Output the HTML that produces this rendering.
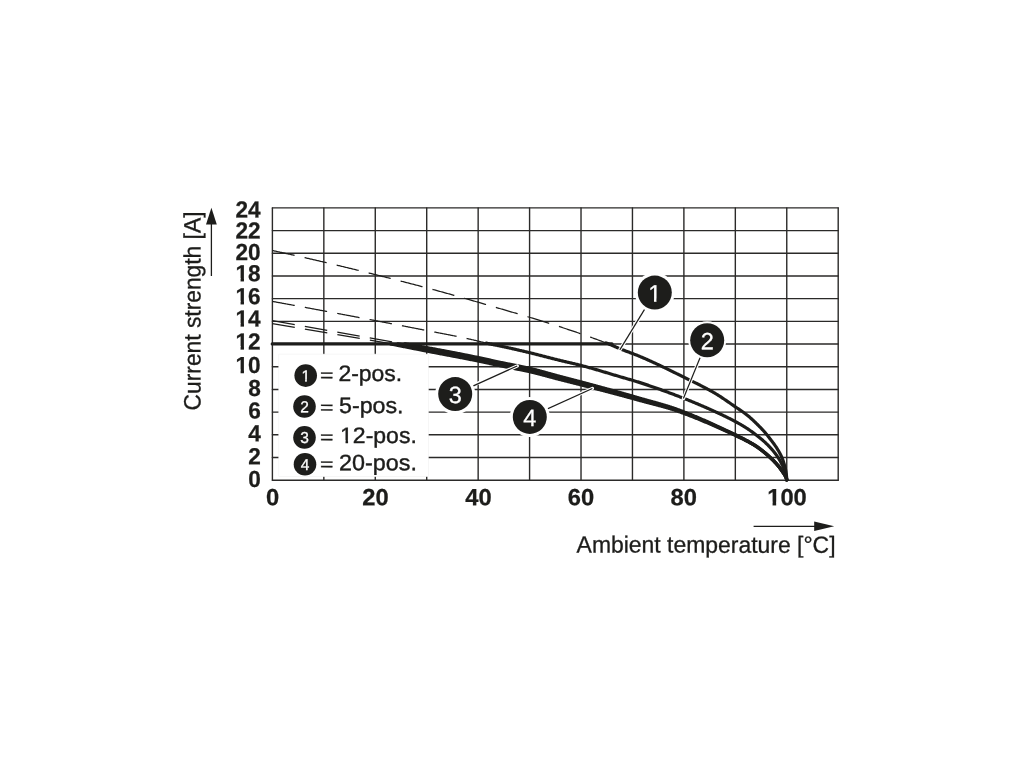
<!DOCTYPE html>
<html lang="en"><head><meta charset="utf-8"><title>Derating diagram</title>
<style>html,body{margin:0;padding:0;background:#fff;}body{width:1020px;height:765px;overflow:hidden;}svg{display:block;}text{font-family:"Liberation Sans",sans-serif;}</style>
</head><body>
<svg width="1020" height="765" viewBox="0 0 1020 765">
<defs><clipPath id="k1"><path clip-rule="evenodd" d="M-400,-60H400V30H-400ZM-24.71,-3.31H-20.01V1.5H-24.71ZM-16.62,-3.31H-12.20V1.5H-16.62Z"/></clipPath><clipPath id="k2"><path clip-rule="evenodd" d="M-400,-60H400V30H-400ZM-24.71,-3.31H-20.01V1.5H-24.71ZM-16.62,-3.31H-12.20V1.5H-16.62Z"/></clipPath><clipPath id="k3"><path clip-rule="evenodd" d="M-400,-60H400V30H-400ZM-24.71,-3.31H-20.01V1.5H-24.71ZM-16.62,-3.31H-12.20V1.5H-16.62Z"/></clipPath><clipPath id="k4"><path clip-rule="evenodd" d="M-400,-60H400V30H-400ZM-24.71,-3.31H-20.01V1.5H-24.71ZM-16.62,-3.31H-12.20V1.5H-16.62Z"/></clipPath><clipPath id="k5"><path clip-rule="evenodd" d="M-400,-60H400V30H-400ZM-24.71,-3.31H-20.01V1.5H-24.71ZM-16.62,-3.31H-12.20V1.5H-16.62Z"/></clipPath><clipPath id="k6"><path clip-rule="evenodd" d="M-400,-60H400V30H-400ZM-18.43,-3.31H-13.72V1.5H-18.43ZM-10.33,-3.31H-5.91V1.5H-10.33Z"/></clipPath><clipPath id="k7"><path clip-rule="evenodd" d="M-400,-60H400V30H-400ZM-4.13,-2.16H-0.58V1.5H-4.13ZM1.13,-2.16H4.55V1.5H1.13Z"/></clipPath><clipPath id="k8"><path clip-rule="evenodd" d="M-400,-60H400V30H-400ZM0.75,-2.71H5.55V1.5H0.75ZM8.02,-2.71H12.64V1.5H8.02Z"/></clipPath><clipPath id="k9"><path clip-rule="evenodd" d="M-400,-60H400V30H-400ZM-5.74,-2.76H-0.80V1.5H-5.74ZM1.62,-2.76H6.39V1.5H1.62Z"/></clipPath></defs>
<rect width="1020" height="765" fill="#ffffff"/>
<g stroke="#2b2a29" stroke-width="1.4" fill="none" stroke-linecap="round">
<line x1="272.40" y1="207.90" x2="272.40" y2="480.20"/>
<line x1="323.84" y1="207.90" x2="323.84" y2="480.20"/>
<line x1="375.27" y1="207.90" x2="375.27" y2="480.20"/>
<line x1="426.71" y1="207.90" x2="426.71" y2="480.20"/>
<line x1="478.15" y1="207.90" x2="478.15" y2="480.20"/>
<line x1="529.58" y1="207.90" x2="529.58" y2="480.20"/>
<line x1="581.02" y1="207.90" x2="581.02" y2="480.20"/>
<line x1="632.45" y1="207.90" x2="632.45" y2="480.20"/>
<line x1="683.89" y1="207.90" x2="683.89" y2="480.20"/>
<line x1="735.33" y1="207.90" x2="735.33" y2="480.20"/>
<line x1="786.76" y1="207.90" x2="786.76" y2="480.20"/>
<line x1="838.20" y1="207.90" x2="838.20" y2="480.20"/>
<line x1="272.40" y1="207.90" x2="838.20" y2="207.90"/>
<line x1="272.40" y1="230.59" x2="838.20" y2="230.59"/>
<line x1="272.40" y1="253.28" x2="838.20" y2="253.28"/>
<line x1="272.40" y1="275.98" x2="838.20" y2="275.98"/>
<line x1="272.40" y1="298.67" x2="838.20" y2="298.67"/>
<line x1="272.40" y1="321.36" x2="838.20" y2="321.36"/>
<line x1="272.40" y1="344.05" x2="838.20" y2="344.05"/>
<line x1="272.40" y1="366.74" x2="838.20" y2="366.74"/>
<line x1="272.40" y1="389.43" x2="838.20" y2="389.43"/>
<line x1="272.40" y1="412.12" x2="838.20" y2="412.12"/>
<line x1="272.40" y1="434.82" x2="838.20" y2="434.82"/>
<line x1="272.40" y1="457.51" x2="838.20" y2="457.51"/>
<line x1="272.40" y1="480.20" x2="838.20" y2="480.20"/>
</g>
<rect x="278.8" y="354.1" width="149.50" height="122.50" fill="#ffffff" stroke="#f1f1f1" stroke-width="0.6"/>
<path d="M272.40,250.50 L273.22,250.68 L274.03,250.85 L274.85,251.03 L275.67,251.20 L276.48,251.38 L277.30,251.56 L278.12,251.74 L278.93,251.91 L279.75,252.09 L280.57,252.27 L281.38,252.45 L282.20,252.63 L283.01,252.80 L283.83,252.98 L284.65,253.16 L285.46,253.34 L286.28,253.52 L287.09,253.70 L287.91,253.88 L288.73,254.06 L289.54,254.24 L290.36,254.43 L291.17,254.61 L291.99,254.79 L292.80,254.97 L293.62,255.15 L294.43,255.34 L295.25,255.52 L296.06,255.70 L296.88,255.88 L297.69,256.07 L298.51,256.25 L299.32,256.43 L300.14,256.62 L300.95,256.80 L301.77,256.99 L302.58,257.17 L303.40,257.36 L304.21,257.54 L305.03,257.73 L305.84,257.91 L306.66,258.10 L307.47,258.29 L308.28,258.47 L309.10,258.66 L309.91,258.85 L310.73,259.03 L311.54,259.22 L312.35,259.41 L313.17,259.60 L313.98,259.78 L314.80,259.97 L315.61,260.16 L316.42,260.35 L317.24,260.54 L318.05,260.73 L318.86,260.92 L319.68,261.11 L320.49,261.30 L321.30,261.49 L322.12,261.68 L322.93,261.87 L323.74,262.06 L324.56,262.25 L325.37,262.44 L326.18,262.63 L326.99,262.82 L327.81,263.02 L328.62,263.21 L329.43,263.40 L330.25,263.59 L331.06,263.79 L331.87,263.98 L332.68,264.17 L333.50,264.37 L334.31,264.56 L335.12,264.75 L335.93,264.95 L336.74,265.14 L337.56,265.34 L338.37,265.53 L339.18,265.72 L339.99,265.92 L340.81,266.11 L341.62,266.31 L342.43,266.51 L343.24,266.70 L344.05,266.90 L344.86,267.09 L345.68,267.29 L346.49,267.49 L347.30,267.68 L348.11,267.88 L348.92,268.08 L349.73,268.27 L350.54,268.47 L351.36,268.67 L352.17,268.87 L352.98,269.07 L353.79,269.26 L354.60,269.46 L355.41,269.66 L356.22,269.86 L357.03,270.06 L357.84,270.26 L358.65,270.46 L359.46,270.66 L360.28,270.86 L361.09,271.06 L361.90,271.26 L362.71,271.46 L363.52,271.66 L364.33,271.86 L365.14,272.06 L365.95,272.26 L366.76,272.46 L367.57,272.66 L368.38,272.87 L369.19,273.07 L370.00,273.27 L370.81,273.47 L371.62,273.67 L372.43,273.88 L373.24,274.08 L374.05,274.28 L374.86,274.49 L375.67,274.69 L376.48,274.89 L377.29,275.10 L378.10,275.30 L378.91,275.50 L379.72,275.71 L380.53,275.91 L381.34,276.12 L382.14,276.32 L382.95,276.53 L383.76,276.73 L384.57,276.94 L385.38,277.14 L386.19,277.35 L387.00,277.55 L387.81,277.76 L388.62,277.96 L389.43,278.17 L390.24,278.38 L391.04,278.58 L391.85,278.79 L392.66,278.99 L393.47,279.20 L394.28,279.41 L395.09,279.62 L395.90,279.82 L396.70,280.03 L397.51,280.24 L398.32,280.45 L399.13,280.65 L399.94,280.86 L400.75,281.07 L401.56,281.28 L402.36,281.49 L403.17,281.69 L403.98,281.90 L404.79,282.11 L405.60,282.32 L406.40,282.53 L407.21,282.74 L408.02,282.95 L408.83,283.16 L409.64,283.37 L410.44,283.58 L411.25,283.79 L412.06,284.00 L412.87,284.21 L413.67,284.42 L414.48,284.63 L415.29,284.84 L416.10,285.05 L416.90,285.26 L417.71,285.47 L418.52,285.68 L419.33,285.89 L420.13,286.11 L420.94,286.32 L421.75,286.53 L422.56,286.74 L423.36,286.95 L424.17,287.17 L424.98,287.38 L425.78,287.59 L426.59,287.81 L427.40,288.02 L428.20,288.23 L429.01,288.45 L429.82,288.67 L430.62,288.88 L431.43,289.10 L432.23,289.32 L433.04,289.53 L433.85,289.75 L434.65,289.97 L435.46,290.19 L436.26,290.41 L437.07,290.62 L437.87,290.84 L438.68,291.06 L439.48,291.28 L440.29,291.50 L441.09,291.73 L441.90,291.95 L442.70,292.17 L443.51,292.39 L444.31,292.61 L445.12,292.84 L445.92,293.06 L446.73,293.28 L447.53,293.51 L448.34,293.73 L449.14,293.95 L449.95,294.18 L450.75,294.40 L451.55,294.63 L452.36,294.85 L453.16,295.08 L453.97,295.31 L454.77,295.53 L455.57,295.76 L456.38,295.99 L457.18,296.21 L457.98,296.44 L458.79,296.67 L459.59,296.90 L460.39,297.12 L461.20,297.35 L462.00,297.58 L462.80,297.81 L463.61,298.04 L464.41,298.27 L465.21,298.50 L466.02,298.73 L466.82,298.96 L467.62,299.19 L468.42,299.42 L469.23,299.65 L470.03,299.88 L470.83,300.11 L471.64,300.34 L472.44,300.57 L473.24,300.81 L474.04,301.04 L474.85,301.27 L475.65,301.50 L476.45,301.73 L477.25,301.97 L478.05,302.20 L478.86,302.43 L479.66,302.66 L480.46,302.90 L481.26,303.13 L482.06,303.36 L482.87,303.60 L483.67,303.83 L484.47,304.06 L485.27,304.30 L486.07,304.53 L486.87,304.76 L487.68,305.00 L488.48,305.23 L489.28,305.46 L490.08,305.70 L490.88,305.93 L491.68,306.17 L492.49,306.40 L493.29,306.64 L494.09,306.87 L494.89,307.10 L495.69,307.34 L496.49,307.57 L497.29,307.81 L498.10,308.04 L498.90,308.28 L499.70,308.51 L500.50,308.75 L501.30,308.98 L502.10,309.22 L502.90,309.45 L503.70,309.68 L504.51,309.92 L505.31,310.15 L506.11,310.39 L506.91,310.62 L507.71,310.86 L508.51,311.09 L509.31,311.33 L510.12,311.56 L510.92,311.80 L511.72,312.03 L512.52,312.27 L513.32,312.50 L514.12,312.74 L514.92,312.97 L515.72,313.21 L516.53,313.44 L517.33,313.68 L518.13,313.92 L518.93,314.15 L519.73,314.39 L520.53,314.63 L521.33,314.86 L522.13,315.10 L522.93,315.34 L523.73,315.58 L524.54,315.81 L525.34,316.05 L526.14,316.29 L526.94,316.53 L527.74,316.77 L528.54,317.01 L529.34,317.25 L530.14,317.49 L530.94,317.73 L531.74,317.97 L532.54,318.21 L533.34,318.45 L534.14,318.69 L534.94,318.93 L535.73,319.18 L536.53,319.42 L537.33,319.66 L538.13,319.90 L538.93,320.15 L539.73,320.39 L540.53,320.64 L541.32,320.88 L542.12,321.13 L542.92,321.38 L543.72,321.62 L544.52,321.87 L545.31,322.12 L546.11,322.37 L546.91,322.62 L547.70,322.86 L548.50,323.11 L549.30,323.37 L550.09,323.62 L550.89,323.87 L551.68,324.12 L552.48,324.37 L553.27,324.63 L554.07,324.88 L554.86,325.14 L555.66,325.39 L556.45,325.65 L557.25,325.90 L558.04,326.16 L558.83,326.42 L559.63,326.68 L560.42,326.94 L561.21,327.20 L562.01,327.46 L562.80,327.72 L563.59,327.98 L564.38,328.24 L565.18,328.50 L565.97,328.76 L566.76,329.02 L567.56,329.29 L568.35,329.55 L569.14,329.81 L569.93,330.08 L570.73,330.34 L571.52,330.61 L572.31,330.87 L573.10,331.14 L573.89,331.41 L574.69,331.67 L575.48,331.94 L576.27,332.21 L577.06,332.48 L577.85,332.75 L578.64,333.02 L579.43,333.29 L580.22,333.56 L581.01,333.83 L581.80,334.11 L582.59,334.38 L583.38,334.65 L584.17,334.93 L584.96,335.20 L585.75,335.48 L586.54,335.76 L587.32,336.03 L588.11,336.31 L588.90,336.59 L589.69,336.87 L590.47,337.15 L591.26,337.44 L592.04,337.72 L592.83,338.00 L593.61,338.29 L594.40,338.57 L595.18,338.86 L595.97,339.15 L596.75,339.43 L597.54,339.72 L598.32,340.01 L599.10,340.31 L599.88,340.60 L600.66,340.89 L601.44,341.18 L602.23,341.48 L603.01,341.78 L603.78,342.07 L604.56,342.37 L605.34,342.67 L606.12,342.97 L606.90,343.27 L607.68,343.58 L608.45,343.88 L609.23,344.19" fill="none" stroke="#1d1d1b" stroke-width="1.25" stroke-dasharray="22.7 10.25"/>
<path d="M606.12,342.97 L606.90,343.27 L607.68,343.58 L608.45,343.88 L609.23,344.19 L610.00,344.50 L610.77,344.82 L611.54,345.15 L612.31,345.48 L613.07,345.81 L613.84,346.14 L614.61,346.47 L615.37,346.81 L616.14,347.14 L616.91,347.47 L617.67,347.80 L618.44,348.12 L619.21,348.44 L619.99,348.76 L620.76,349.07 L621.54,349.38 L622.32,349.68 L623.09,349.98 L623.87,350.28 L624.65,350.58 L625.44,350.88 L626.22,351.17 L627.00,351.47 L627.78,351.76 L628.56,352.05 L629.35,352.35 L630.13,352.64 L630.91,352.93 L631.69,353.23 L632.48,353.52 L633.26,353.82 L634.04,354.12 L634.82,354.42 L635.59,354.72 L636.37,355.02 L637.15,355.33 L637.92,355.64 L638.69,355.96 L639.46,356.27 L640.23,356.60 L641.00,356.92 L641.77,357.25 L642.53,357.58 L643.30,357.91 L644.06,358.24 L644.83,358.57 L645.59,358.90 L646.36,359.24 L647.12,359.58 L647.88,359.92 L648.64,360.26 L649.40,360.60 L650.16,360.94 L650.92,361.29 L651.68,361.63 L652.44,361.98 L653.20,362.33 L653.96,362.68 L654.72,363.03 L655.48,363.38 L656.23,363.73 L656.99,364.09 L657.75,364.44 L658.50,364.80 L659.26,365.16 L660.01,365.51 L660.77,365.87 L661.52,366.23 L662.28,366.59 L663.03,366.95 L663.78,367.32 L664.53,367.68 L665.29,368.04 L666.04,368.41 L666.79,368.77 L667.54,369.14 L668.29,369.50 L669.05,369.87 L669.80,370.24 L670.55,370.61 L671.30,370.97 L672.05,371.34 L672.80,371.71 L673.55,372.08 L674.30,372.45 L675.05,372.82 L675.80,373.19 L676.54,373.56 L677.29,373.93 L678.04,374.30 L678.79,374.67 L679.54,375.04 L680.29,375.41 L681.04,375.78 L681.78,376.15 L682.53,376.52 L683.28,376.89 L684.03,377.26 L684.78,377.63 L685.52,378.00 L686.27,378.37 L687.02,378.74 L687.77,379.11 L688.52,379.48 L689.27,379.85 L690.03,380.22 L690.78,380.58 L691.53,380.95 L692.28,381.32 L693.03,381.69 L693.78,382.06 L694.53,382.43 L695.28,382.81 L696.03,383.18 L696.78,383.55 L697.52,383.92 L698.27,384.30 L699.02,384.68 L699.77,385.05 L700.51,385.43 L701.26,385.81 L702.00,386.19 L702.74,386.58 L703.49,386.96 L704.23,387.35 L704.97,387.73 L705.70,388.12 L706.44,388.52 L707.18,388.91 L707.91,389.31 L708.65,389.70 L709.38,390.10 L710.11,390.51 L710.83,390.91 L711.56,391.32 L712.28,391.73 L713.01,392.14 L713.73,392.56 L714.45,392.98 L715.16,393.40 L715.88,393.82 L716.59,394.25 L717.30,394.69 L718.01,395.13 L718.71,395.57 L719.41,396.02 L720.11,396.47 L720.81,396.93 L721.51,397.38 L722.21,397.84 L722.90,398.31 L723.60,398.77 L724.29,399.24 L724.98,399.71 L725.67,400.18 L726.36,400.66 L727.05,401.13 L727.74,401.61 L728.43,402.08 L729.11,402.56 L729.80,403.04 L730.49,403.52 L731.18,403.99 L731.86,404.47 L732.55,404.94 L733.24,405.42 L733.93,405.89 L734.62,406.37 L735.31,406.84 L736.00,407.30 L736.69,407.77 L737.39,408.23 L738.09,408.70 L738.78,409.16 L739.48,409.62 L740.18,410.08 L740.88,410.55 L741.57,411.01 L742.26,411.49 L742.95,411.96 L743.63,412.44 L744.31,412.93 L744.98,413.42 L745.64,413.92 L746.30,414.42 L746.95,414.94 L747.60,415.46 L748.24,415.99 L748.88,416.53 L749.51,417.08 L750.14,417.63 L750.77,418.19 L751.39,418.75 L752.01,419.31 L752.62,419.88 L753.23,420.45 L753.84,421.03 L754.45,421.60 L755.05,422.18 L755.65,422.76 L756.25,423.34 L756.85,423.92 L757.45,424.50 L758.04,425.09 L758.63,425.68 L759.22,426.27 L759.81,426.87 L760.39,427.47 L760.97,428.07 L761.55,428.68 L762.12,429.29 L762.69,429.90 L763.26,430.51 L763.82,431.13 L764.37,431.75 L764.92,432.38 L765.47,433.01 L766.00,433.65 L766.53,434.29 L767.06,434.94 L767.58,435.59 L768.10,436.25 L768.61,436.91 L769.12,437.57 L769.62,438.24 L770.13,438.90 L770.64,439.57 L771.15,440.23 L771.65,440.89 L772.16,441.56 L772.67,442.23 L773.17,442.90 L773.67,443.57 L774.16,444.24 L774.65,444.92 L775.13,445.60 L775.61,446.29 L776.07,446.98 L776.53,447.67 L776.98,448.37 L777.43,449.08 L777.87,449.79 L778.30,450.50 L778.74,451.22 L779.16,451.95 L779.57,452.68 L779.97,453.41 L780.35,454.15 L780.72,454.90 L781.07,455.65 L781.41,456.41 L781.73,457.18 L782.06,457.95 L782.37,458.73 L782.67,459.51 L782.96,460.30 L783.23,461.09 L783.50,461.88 L783.75,462.68 L783.99,463.47 L784.22,464.27 L784.45,465.08 L784.67,465.88 L784.89,466.69 L785.10,467.51 L785.30,468.32 L785.48,469.14 L785.65,469.96 L785.80,470.78 L785.94,471.60 L786.06,472.42 L786.17,473.24 L786.28,474.07 L786.38,474.90 L786.48,475.73 L786.56,476.56 L786.64,477.39 L786.71,478.22 L786.76,479.06 L786.80,479.90" fill="none" stroke="#1d1d1b" stroke-width="3.2" stroke-linecap="round" stroke-linejoin="round"/>
<path d="M272.40,301.40 L273.19,301.54 L273.98,301.69 L274.77,301.83 L275.55,301.98 L276.34,302.12 L277.13,302.26 L277.92,302.41 L278.71,302.55 L279.50,302.70 L280.29,302.84 L281.07,302.98 L281.86,303.13 L282.65,303.27 L283.44,303.42 L284.23,303.56 L285.02,303.71 L285.81,303.85 L286.59,304.00 L287.38,304.14 L288.17,304.29 L288.96,304.43 L289.75,304.58 L290.54,304.72 L291.33,304.86 L292.11,305.01 L292.90,305.16 L293.69,305.30 L294.48,305.45 L295.27,305.59 L296.06,305.74 L296.84,305.88 L297.63,306.03 L298.42,306.17 L299.21,306.32 L300.00,306.46 L300.79,306.61 L301.57,306.75 L302.36,306.90 L303.15,307.05 L303.94,307.19 L304.73,307.34 L305.52,307.48 L306.30,307.63 L307.09,307.78 L307.88,307.92 L308.67,308.07 L309.46,308.21 L310.25,308.36 L311.03,308.51 L311.82,308.65 L312.61,308.80 L313.40,308.95 L314.19,309.09 L314.97,309.24 L315.76,309.38 L316.55,309.53 L317.34,309.68 L318.13,309.82 L318.92,309.97 L319.70,310.12 L320.49,310.26 L321.28,310.41 L322.07,310.56 L322.86,310.71 L323.64,310.85 L324.43,311.00 L325.22,311.15 L326.01,311.29 L326.80,311.44 L327.58,311.59 L328.37,311.74 L329.16,311.88 L329.95,312.03 L330.74,312.18 L331.52,312.33 L332.31,312.47 L333.10,312.62 L333.89,312.77 L334.68,312.92 L335.46,313.06 L336.25,313.21 L337.04,313.36 L337.83,313.51 L338.62,313.66 L339.40,313.80 L340.19,313.95 L340.98,314.10 L341.77,314.25 L342.55,314.40 L343.34,314.55 L344.13,314.69 L344.92,314.84 L345.71,314.99 L346.49,315.14 L347.28,315.29 L348.07,315.44 L348.86,315.58 L349.64,315.73 L350.43,315.88 L351.22,316.03 L352.01,316.18 L352.80,316.33 L353.58,316.48 L354.37,316.63 L355.16,316.77 L355.95,316.92 L356.73,317.07 L357.52,317.22 L358.31,317.37 L359.10,317.52 L359.88,317.67 L360.67,317.82 L361.46,317.97 L362.25,318.12 L363.04,318.27 L363.82,318.42 L364.61,318.57 L365.40,318.72 L366.19,318.86 L366.97,319.01 L367.76,319.16 L368.55,319.31 L369.34,319.46 L370.12,319.61 L370.91,319.76 L371.70,319.91 L372.49,320.06 L373.27,320.21 L374.06,320.36 L374.85,320.51 L375.64,320.66 L376.42,320.81 L377.21,320.96 L378.00,321.11 L378.79,321.27 L379.57,321.42 L380.36,321.57 L381.15,321.72 L381.94,321.87 L382.72,322.02 L383.51,322.17 L384.30,322.32 L385.08,322.47 L385.87,322.62 L386.66,322.77 L387.45,322.92 L388.23,323.08 L389.02,323.23 L389.81,323.38 L390.60,323.53 L391.38,323.68 L392.17,323.83 L392.96,323.98 L393.74,324.13 L394.53,324.29 L395.32,324.44 L396.11,324.59 L396.89,324.74 L397.68,324.89 L398.47,325.05 L399.26,325.20 L400.04,325.35 L400.83,325.50 L401.62,325.65 L402.40,325.81 L403.19,325.96 L403.98,326.11 L404.76,326.26 L405.55,326.42 L406.34,326.57 L407.13,326.72 L407.91,326.87 L408.70,327.03 L409.49,327.18 L410.27,327.33 L411.06,327.49 L411.85,327.64 L412.63,327.79 L413.42,327.95 L414.21,328.10 L414.99,328.25 L415.78,328.41 L416.57,328.56 L417.36,328.71 L418.14,328.87 L418.93,329.02 L419.72,329.17 L420.50,329.33 L421.29,329.48 L422.08,329.64 L422.86,329.79 L423.65,329.94 L424.44,330.10 L425.22,330.25 L426.01,330.40 L426.80,330.56 L427.58,330.71 L428.37,330.86 L429.16,331.01 L429.95,331.17 L430.73,331.32 L431.52,331.47 L432.31,331.62 L433.09,331.77 L433.88,331.92 L434.67,332.08 L435.46,332.23 L436.24,332.38 L437.03,332.53 L437.82,332.68 L438.61,332.83 L439.39,332.99 L440.18,333.14 L440.97,333.29 L441.76,333.44 L442.54,333.59 L443.33,333.75 L444.12,333.90 L444.90,334.05 L445.69,334.21 L446.48,334.36 L447.27,334.51 L448.05,334.67 L448.84,334.82 L449.63,334.98 L450.41,335.13 L451.20,335.29 L451.99,335.44 L452.77,335.60 L453.56,335.76 L454.34,335.92 L455.13,336.07 L455.92,336.23 L456.70,336.39 L457.49,336.55 L458.27,336.71 L459.06,336.87 L459.84,337.04 L460.63,337.20 L461.41,337.36 L462.20,337.53 L462.98,337.69 L463.76,337.86 L464.55,338.02 L465.33,338.19 L466.12,338.36 L466.90,338.52 L467.68,338.69 L468.47,338.86 L469.25,339.03 L470.03,339.21 L470.81,339.38 L471.59,339.56 L472.38,339.74 L473.16,339.92 L473.94,340.11 L474.72,340.29 L475.50,340.48 L476.27,340.67 L477.05,340.86 L477.83,341.05 L478.61,341.25 L479.39,341.44 L480.17,341.63 L480.95,341.82 L481.72,342.01 L482.50,342.20 L483.28,342.39 L484.06,342.58 L484.84,342.76 L485.62,342.95 L486.40,343.13 L487.19,343.31 L487.97,343.48 L488.75,343.65" fill="none" stroke="#1d1d1b" stroke-width="1.25" stroke-dasharray="22.7 10.25"/>
<path d="M486.40,343.13 L487.19,343.31 L487.97,343.48 L488.75,343.65 L489.53,343.83 L490.32,343.99 L491.10,344.16 L491.88,344.33 L492.67,344.49 L493.45,344.66 L494.24,344.82 L495.02,344.98 L495.81,345.14 L496.59,345.30 L497.38,345.46 L498.17,345.62 L498.95,345.78 L499.74,345.94 L500.52,346.11 L501.31,346.27 L502.09,346.43 L502.88,346.59 L503.66,346.76 L504.45,346.92 L505.23,347.09 L506.02,347.26 L506.80,347.42 L507.58,347.60 L508.36,347.77 L509.15,347.94 L509.93,348.12 L510.71,348.29 L511.49,348.47 L512.28,348.64 L513.06,348.82 L513.84,349.00 L514.62,349.18 L515.40,349.35 L516.18,349.53 L516.97,349.71 L517.75,349.89 L518.53,350.07 L519.31,350.26 L520.09,350.44 L520.87,350.62 L521.65,350.80 L522.43,350.99 L523.21,351.17 L523.99,351.36 L524.77,351.54 L525.55,351.73 L526.33,351.91 L527.11,352.10 L527.89,352.29 L528.67,352.48 L529.45,352.66 L530.23,352.85 L531.01,353.04 L531.79,353.23 L532.56,353.42 L533.34,353.62 L534.12,353.81 L534.90,354.01 L535.67,354.20 L536.45,354.40 L537.23,354.59 L538.01,354.79 L538.78,354.99 L539.56,355.19 L540.34,355.39 L541.11,355.59 L541.89,355.79 L542.67,355.99 L543.44,356.19 L544.22,356.39 L544.99,356.59 L545.77,356.79 L546.55,356.99 L547.32,357.19 L548.10,357.39 L548.88,357.59 L549.65,357.79 L550.43,357.99 L551.21,358.19 L551.98,358.39 L552.76,358.59 L553.54,358.78 L554.31,358.98 L555.09,359.18 L555.87,359.37 L556.64,359.57 L557.42,359.76 L558.20,359.96 L558.98,360.15 L559.76,360.34 L560.54,360.53 L561.31,360.72 L562.09,360.91 L562.87,361.09 L563.65,361.28 L564.44,361.46 L565.22,361.64 L566.00,361.82 L566.78,362.00 L567.56,362.19 L568.34,362.37 L569.12,362.55 L569.90,362.73 L570.69,362.91 L571.47,363.09 L572.25,363.27 L573.03,363.45 L573.81,363.63 L574.59,363.82 L575.37,364.00 L576.15,364.19 L576.93,364.38 L577.71,364.57 L578.48,364.76 L579.26,364.96 L580.04,365.15 L580.81,365.35 L581.59,365.55 L582.36,365.76 L583.14,365.96 L583.91,366.17 L584.69,366.37 L585.46,366.58 L586.23,366.79 L587.01,367.01 L587.78,367.22 L588.55,367.43 L589.32,367.65 L590.09,367.86 L590.87,368.08 L591.64,368.30 L592.41,368.52 L593.18,368.74 L593.95,368.96 L594.72,369.19 L595.49,369.41 L596.26,369.64 L597.03,369.86 L597.80,370.09 L598.57,370.31 L599.33,370.54 L600.10,370.77 L600.87,371.00 L601.64,371.22 L602.41,371.45 L603.18,371.68 L603.95,371.91 L604.72,372.14 L605.48,372.37 L606.25,372.60 L607.02,372.83 L607.79,373.06 L608.56,373.29 L609.32,373.52 L610.09,373.76 L610.86,373.99 L611.63,374.22 L612.40,374.45 L613.17,374.68 L613.93,374.91 L614.70,375.13 L615.47,375.36 L616.24,375.59 L617.01,375.82 L617.78,376.05 L618.55,376.27 L619.32,376.50 L620.08,376.72 L620.85,376.95 L621.62,377.17 L622.39,377.40 L623.17,377.62 L623.94,377.84 L624.71,378.06 L625.48,378.28 L626.25,378.50 L627.02,378.72 L627.79,378.94 L628.56,379.17 L629.33,379.39 L630.10,379.61 L630.87,379.83 L631.64,380.06 L632.41,380.28 L633.18,380.51 L633.95,380.74 L634.72,380.97 L635.49,381.20 L636.25,381.43 L637.02,381.66 L637.78,381.90 L638.55,382.14 L639.31,382.38 L640.08,382.62 L640.84,382.87 L641.60,383.12 L642.36,383.36 L643.12,383.61 L643.88,383.86 L644.65,384.11 L645.41,384.36 L646.17,384.62 L646.93,384.87 L647.69,385.13 L648.45,385.38 L649.21,385.64 L649.96,385.90 L650.72,386.16 L651.48,386.42 L652.24,386.68 L653.00,386.94 L653.76,387.20 L654.51,387.47 L655.27,387.73 L656.03,388.00 L656.78,388.26 L657.54,388.53 L658.30,388.80 L659.05,389.07 L659.81,389.34 L660.56,389.61 L661.32,389.88 L662.07,390.15 L662.83,390.43 L663.58,390.70 L664.33,390.98 L665.09,391.25 L665.84,391.53 L666.59,391.81 L667.35,392.08 L668.10,392.36 L668.85,392.64 L669.60,392.92 L670.35,393.20 L671.10,393.49 L671.86,393.77 L672.61,394.05 L673.36,394.34 L674.11,394.62 L674.86,394.91 L675.60,395.19 L676.35,395.48 L677.10,395.76 L677.85,396.05 L678.60,396.34 L679.35,396.63 L680.09,396.92 L680.84,397.21 L681.59,397.50 L682.33,397.79 L683.08,398.08 L683.83,398.37 L684.57,398.66 L685.32,398.96 L686.06,399.25 L686.81,399.55 L687.55,399.84 L688.29,400.14 L689.04,400.44 L689.78,400.74 L690.52,401.04 L691.27,401.34 L692.01,401.64 L692.75,401.95 L693.49,402.25 L694.23,402.56 L694.98,402.87 L695.72,403.17 L696.46,403.48 L697.20,403.79 L697.94,404.10 L698.68,404.42 L699.41,404.73 L700.15,405.04 L700.89,405.36 L701.63,405.67 L702.37,405.99 L703.10,406.31 L703.84,406.63 L704.57,406.95 L705.31,407.27 L706.04,407.59 L706.78,407.91 L707.51,408.23 L708.25,408.56 L708.98,408.88 L709.71,409.21 L710.44,409.54 L711.17,409.87 L711.90,410.19 L712.63,410.52 L713.36,410.85 L714.09,411.19 L714.82,411.52 L715.55,411.85 L716.28,412.19 L717.01,412.52 L717.73,412.86 L718.46,413.20 L719.19,413.53 L719.91,413.87 L720.64,414.22 L721.37,414.56 L722.09,414.90 L722.81,415.25 L723.54,415.60 L724.26,415.94 L724.98,416.29 L725.71,416.64 L726.43,417.00 L727.15,417.35 L727.86,417.71 L728.58,418.07 L729.30,418.43 L730.01,418.79 L730.73,419.15 L731.44,419.52 L732.15,419.89 L732.86,420.26 L733.57,420.63 L734.28,421.00 L734.99,421.38 L735.69,421.76 L736.40,422.14 L737.10,422.52 L737.80,422.91 L738.51,423.30 L739.21,423.69 L739.91,424.09 L740.60,424.48 L741.30,424.89 L741.99,425.29 L742.68,425.70 L743.37,426.11 L744.05,426.53 L744.74,426.95 L745.42,427.37 L746.09,427.80 L746.76,428.23 L747.43,428.67 L748.10,429.12 L748.76,429.57 L749.42,430.02 L750.08,430.48 L750.74,430.94 L751.39,431.41 L752.04,431.88 L752.69,432.36 L753.33,432.83 L753.98,433.31 L754.62,433.80 L755.25,434.28 L755.89,434.77 L756.52,435.26 L757.16,435.75 L757.79,436.24 L758.42,436.74 L759.05,437.24 L759.68,437.74 L760.30,438.25 L760.92,438.76 L761.54,439.27 L762.15,439.79 L762.76,440.31 L763.36,440.84 L763.96,441.37 L764.56,441.91 L765.14,442.45 L765.73,442.99 L766.31,443.55 L766.88,444.10 L767.46,444.67 L768.03,445.23 L768.59,445.81 L769.15,446.38 L769.70,446.97 L770.25,447.55 L770.80,448.15 L771.33,448.74 L771.86,449.34 L772.38,449.95 L772.90,450.56 L773.41,451.17 L773.92,451.79 L774.42,452.42 L774.92,453.05 L775.41,453.69 L775.89,454.34 L776.36,454.99 L776.82,455.64 L777.27,456.30 L777.71,456.97 L778.15,457.64 L778.57,458.32 L779.00,459.00 L779.41,459.69 L779.82,460.38 L780.22,461.08 L780.61,461.79 L780.99,462.49 L781.36,463.20 L781.72,463.92 L782.07,464.64 L782.40,465.36 L782.74,466.09 L783.07,466.82 L783.40,467.56 L783.71,468.30 L784.02,469.05 L784.31,469.80 L784.58,470.56 L784.84,471.31 L785.08,472.08 L785.29,472.84 L785.50,473.61 L785.70,474.38 L785.89,475.16 L786.08,475.94 L786.25,476.72 L786.41,477.51 L786.55,478.30 L786.68,479.10 L786.80,479.90" fill="none" stroke="#1d1d1b" stroke-width="3.2" stroke-linecap="round" stroke-linejoin="round"/>
<path d="M405.00,343.90 L405.58,344.00 L406.17,344.09 L406.75,344.19 L407.34,344.29 L407.92,344.39 L408.50,344.48 L409.09,344.58 L409.67,344.68 L410.25,344.78 L410.84,344.88 L411.42,344.97 L412.00,345.07 L412.59,345.17 L413.17,345.27 L413.75,345.37 L414.34,345.47 L414.92,345.57 L415.50,345.67 L416.09,345.77 L416.67,345.87 L417.25,345.97 L417.84,346.07 L418.42,346.17 L419.00,346.27 L419.59,346.37 L420.17,346.48 L420.75,346.58 L421.34,346.68 L421.92,346.78 L422.50,346.89 L423.08,346.99 L423.67,347.09 L424.25,347.20 L424.83,347.30 L425.41,347.40 L426.00,347.51 L426.58,347.61 L427.16,347.72 L427.74,347.82 L428.32,347.93 L428.91,348.04 L429.49,348.14 L430.07,348.25 L430.65,348.35 L431.24,348.46 L431.82,348.57 L432.40,348.67 L432.98,348.78 L433.56,348.89 L434.15,348.99 L434.73,349.10 L435.31,349.21 L435.89,349.32 L436.47,349.42 L437.06,349.53 L437.64,349.64 L438.22,349.75 L438.80,349.86 L439.38,349.96 L439.96,350.07 L440.55,350.18 L441.13,350.29 L441.71,350.40 L442.29,350.51 L442.87,350.62 L443.45,350.73 L444.04,350.84 L444.62,350.95 L445.20,351.06 L445.78,351.17 L446.36,351.28 L446.94,351.39 L447.53,351.50 L448.11,351.61 L448.69,351.72 L449.27,351.83 L449.85,351.94 L450.43,352.05 L451.01,352.17 L451.59,352.28 L452.18,352.39 L452.76,352.50 L453.34,352.61 L453.92,352.73 L454.50,352.84 L455.08,352.95 L455.66,353.06 L456.24,353.18 L456.82,353.29 L457.40,353.40 L457.99,353.52 L458.57,353.63 L459.15,353.74 L459.73,353.86 L460.31,353.97 L460.89,354.09 L461.47,354.20 L462.05,354.32 L462.63,354.43 L463.21,354.55 L463.79,354.66 L464.37,354.78 L464.95,354.89 L465.53,355.01 L466.11,355.12 L466.69,355.24 L467.27,355.36 L467.85,355.47 L468.43,355.59 L469.01,355.70 L469.59,355.82 L470.18,355.94 L470.76,356.06 L471.34,356.17 L471.91,356.29 L472.49,356.41 L473.07,356.53 L473.65,356.64 L474.23,356.76 L474.81,356.88 L475.39,357.00 L475.97,357.12 L476.55,357.24 L477.13,357.36 L477.71,357.48 L478.29,357.60 L478.87,357.71 L479.45,357.83 L480.03,357.96 L480.61,358.08 L481.19,358.20 L481.77,358.32 L482.34,358.45 L482.92,358.57 L483.50,358.70 L484.08,358.82 L484.66,358.95 L485.24,359.08 L485.81,359.20 L486.39,359.33 L486.97,359.46 L487.55,359.59 L488.13,359.71 L488.70,359.84 L489.28,359.97 L489.86,360.10 L490.44,360.23 L491.01,360.36 L491.59,360.49 L492.17,360.61 L492.75,360.74 L493.32,360.87 L493.90,361.00 L494.48,361.13 L495.06,361.25 L495.64,361.38 L496.21,361.51 L496.79,361.63 L497.37,361.76 L497.95,361.88 L498.53,362.01 L499.11,362.13 L499.69,362.25 L500.26,362.38 L500.84,362.50 L501.42,362.62 L502.00,362.74 L502.58,362.86 L503.16,362.97 L503.74,363.09 L504.32,363.21 L504.90,363.33 L505.48,363.44 L506.06,363.56 L506.65,363.67 L507.23,363.79 L507.81,363.90 L508.39,364.01 L508.97,364.13 L509.55,364.24 L510.13,364.35 L510.71,364.47 L511.29,364.58 L511.88,364.69 L512.46,364.81 L513.04,364.92 L513.62,365.03 L514.20,365.14 L514.78,365.26 L515.36,365.37 L515.94,365.48 L516.52,365.60 L517.11,365.71 L517.69,365.83 L518.27,365.94 L518.85,366.06 L519.43,366.17 L520.01,366.29 L520.59,366.41 L521.17,366.53 L521.75,366.65 L522.33,366.76 L522.91,366.89 L523.49,367.01 L524.06,367.13 L524.64,367.25 L525.22,367.37 L525.80,367.50 L526.38,367.63 L526.95,367.75 L527.53,367.88 L528.11,368.01 L528.68,368.14 L529.26,368.27 L529.84,368.40 L530.41,368.54 L530.99,368.67 L531.56,368.81 L532.14,368.95 L532.71,369.09 L533.28,369.23 L533.86,369.38 L534.43,369.52 L535.01,369.66 L535.58,369.81 L536.15,369.96 L536.72,370.11 L537.30,370.25 L537.87,370.40 L538.44,370.56 L539.01,370.71 L539.58,370.86 L540.16,371.01 L540.73,371.17 L541.30,371.32 L541.87,371.48 L542.44,371.63 L543.01,371.79 L543.58,371.95 L544.15,372.11 L544.72,372.26 L545.29,372.42 L545.86,372.58 L546.44,372.74 L547.01,372.90 L547.58,373.06 L548.15,373.22 L548.72,373.37 L549.29,373.53 L549.86,373.69 L550.43,373.85 L551.00,374.01 L551.57,374.17 L552.14,374.33 L552.71,374.49 L553.28,374.65 L553.85,374.80 L554.42,374.96 L554.99,375.12 L555.56,375.28 L556.13,375.43 L556.71,375.59 L557.28,375.74 L557.85,375.90 L558.42,376.05 L558.99,376.20 L559.56,376.35 L560.14,376.51 L560.71,376.66 L561.28,376.81 L561.85,376.96 L562.43,377.11 L563.00,377.26 L563.57,377.41 L564.14,377.56 L564.72,377.71 L565.29,377.85 L565.86,378.00 L566.43,378.15 L567.01,378.30 L567.58,378.45 L568.15,378.60 L568.73,378.75 L569.30,378.90 L569.87,379.04 L570.44,379.19 L571.02,379.34 L571.59,379.49 L572.16,379.64 L572.74,379.79 L573.31,379.94 L573.88,380.08 L574.45,380.23 L575.03,380.38 L575.60,380.53 L576.17,380.68 L576.74,380.83 L577.32,380.98 L577.89,381.13 L578.46,381.28 L579.03,381.43 L579.60,381.59 L580.18,381.74 L580.75,381.89 L581.32,382.04 L581.89,382.19 L582.46,382.35 L583.04,382.50 L583.61,382.65 L584.18,382.80 L584.75,382.96 L585.32,383.11 L585.89,383.26 L586.47,383.42 L587.04,383.57 L587.61,383.72 L588.18,383.88 L588.75,384.03 L589.32,384.18 L589.90,384.34 L590.47,384.49 L591.04,384.64 L591.61,384.80 L592.18,384.95 L592.75,385.11 L593.32,385.26 L593.89,385.41 L594.47,385.57 L595.04,385.72 L595.61,385.88 L596.18,386.03 L596.75,386.19 L597.32,386.34 L597.89,386.50 L598.46,386.65 L599.04,386.81 L599.61,386.96 L600.18,387.12 L600.75,387.28 L601.32,387.43 L601.89,387.59 L602.46,387.74 L603.03,387.90 L603.60,388.05 L604.17,388.21 L604.74,388.37 L605.31,388.52 L605.89,388.68 L606.46,388.84 L607.03,388.99 L607.60,389.15 L608.17,389.31 L608.74,389.46 L609.31,389.62 L609.88,389.78 L610.45,389.94 L611.02,390.09 L611.59,390.25 L612.16,390.41 L612.73,390.57 L613.30,390.72 L613.87,390.88 L614.44,391.04 L615.01,391.20 L615.58,391.35 L616.15,391.51 L616.72,391.67 L617.29,391.83 L617.86,391.99 L618.43,392.15 L619.00,392.31 L619.57,392.46 L620.14,392.62 L620.71,392.78 L621.28,392.94 L621.85,393.10 L622.42,393.26 L622.99,393.42 L623.56,393.58 L624.13,393.74 L624.70,393.90 L625.27,394.07 L625.84,394.23 L626.41,394.39 L626.98,394.55 L627.55,394.71 L628.12,394.87 L628.69,395.04 L629.26,395.20 L629.82,395.36 L630.39,395.52 L630.96,395.69 L631.53,395.85 L632.10,396.01 L632.67,396.18 L633.24,396.34 L633.81,396.50 L634.38,396.67 L634.94,396.83 L635.51,397.00 L636.08,397.16 L636.65,397.33 L637.22,397.49 L637.79,397.66 L638.35,397.82 L638.92,397.99 L639.49,398.15 L640.06,398.32 L640.63,398.48 L641.20,398.64 L641.77,398.81 L642.33,398.97 L642.90,399.13 L643.47,399.29 L644.04,399.45 L644.61,399.61 L645.18,399.77 L645.75,399.93 L646.33,400.09 L646.90,400.25 L647.47,400.40 L648.04,400.56 L648.61,400.72 L649.18,400.88 L649.75,401.03 L650.32,401.19 L650.89,401.35 L651.46,401.51 L652.03,401.66 L652.60,401.82 L653.18,401.98 L653.75,402.14 L654.32,402.30 L654.89,402.45 L655.46,402.61 L656.03,402.77 L656.60,402.93 L657.17,403.09 L657.74,403.25 L658.31,403.41 L658.88,403.57 L659.45,403.73 L660.02,403.90 L660.59,404.06 L661.16,404.22 L661.72,404.39 L662.29,404.55 L662.86,404.72 L663.43,404.88 L663.99,405.05 L664.56,405.22 L665.13,405.39 L665.69,405.56 L666.26,405.73 L666.83,405.90 L667.39,406.08 L667.96,406.25 L668.52,406.43 L669.08,406.61 L669.65,406.79 L670.21,406.97 L670.77,407.15 L671.33,407.33 L671.89,407.51 L672.46,407.70 L673.02,407.89 L673.58,408.08 L674.14,408.27 L674.69,408.47 L675.25,408.66 L675.81,408.86 L676.37,409.06 L676.93,409.26 L677.48,409.46 L678.04,409.67 L678.59,409.87 L679.15,410.08 L679.70,410.29 L680.26,410.50 L680.81,410.70 L681.37,410.91 L681.92,411.13 L682.47,411.34 L683.02,411.55 L683.57,411.76 L684.13,411.98 L684.68,412.19 L685.23,412.41 L685.78,412.62 L686.33,412.84 L686.88,413.06 L687.43,413.28 L687.98,413.49 L688.53,413.71 L689.07,413.94 L689.62,414.16 L690.17,414.38 L690.72,414.60 L691.27,414.83 L691.82,415.05 L692.36,415.27 L692.91,415.50 L693.46,415.73 L694.00,415.95 L694.55,416.18 L695.10,416.41 L695.64,416.64 L696.19,416.87 L696.73,417.10 L697.28,417.33 L697.82,417.56 L698.37,417.79 L698.91,418.02 L699.46,418.26 L700.00,418.49 L700.55,418.72 L701.09,418.96 L701.63,419.19 L702.18,419.43 L702.72,419.66 L703.26,419.90 L703.81,420.13 L704.35,420.37 L704.89,420.61 L705.43,420.85 L705.98,421.08 L706.52,421.32 L707.06,421.56 L707.60,421.80 L708.14,422.04 L708.68,422.28 L709.23,422.52 L709.77,422.76 L710.31,423.00 L710.85,423.24 L711.39,423.48 L711.93,423.72 L712.47,423.96 L713.01,424.21 L713.55,424.45 L714.09,424.69 L714.63,424.93 L715.17,425.18 L715.71,425.42 L716.25,425.66 L716.78,425.91 L717.32,426.15 L717.86,426.40 L718.40,426.64 L718.94,426.89 L719.47,427.14 L720.01,427.39 L720.55,427.64 L721.08,427.89 L721.62,428.14 L722.16,428.39 L722.69,428.64 L723.23,428.89 L723.76,429.14 L724.30,429.39 L724.83,429.65 L725.37,429.90 L725.90,430.16 L726.44,430.41 L726.97,430.67 L727.51,430.92 L728.04,431.18 L728.57,431.43 L729.11,431.69 L729.64,431.95 L730.17,432.21 L730.70,432.46 L731.24,432.72 L731.77,432.98 L732.30,433.24 L732.83,433.50 L733.36,433.76 L733.90,434.02 L734.43,434.28 L734.96,434.54 L735.49,434.80 L736.02,435.06 L736.55,435.33 L737.08,435.59 L737.61,435.85 L738.15,436.11 L738.68,436.37 L739.21,436.64 L739.74,436.90 L740.27,437.16 L740.80,437.43 L741.32,437.69 L741.85,437.96 L742.38,438.23 L742.91,438.50 L743.43,438.77 L743.96,439.04 L744.48,439.32 L745.00,439.60 L745.53,439.87 L746.05,440.15 L746.57,440.44 L747.09,440.72 L747.61,441.00 L748.13,441.29 L748.64,441.57 L749.16,441.86 L749.68,442.15 L750.20,442.44 L750.71,442.73 L751.23,443.03 L751.74,443.32 L752.25,443.62 L752.76,443.92 L753.27,444.23 L753.78,444.54 L754.28,444.85 L754.78,445.16 L755.28,445.48 L755.77,445.80 L756.26,446.12 L756.75,446.46 L757.24,446.79 L757.72,447.13 L758.20,447.48 L758.68,447.83 L759.16,448.18 L759.63,448.54 L760.11,448.89 L760.58,449.25 L761.04,449.62 L761.51,449.98 L761.98,450.34 L762.44,450.71 L762.90,451.08 L763.37,451.45 L763.82,451.82 L764.28,452.20 L764.74,452.57 L765.19,452.95 L765.65,453.34 L766.10,453.72 L766.55,454.11 L766.99,454.49 L767.44,454.88 L767.88,455.28 L768.32,455.67 L768.76,456.07 L769.20,456.46 L769.64,456.86 L770.07,457.27 L770.50,457.67 L770.93,458.08 L771.36,458.49 L771.79,458.90 L772.21,459.32 L772.63,459.73 L773.05,460.15 L773.46,460.57 L773.87,461.00 L774.28,461.42 L774.69,461.85 L775.10,462.28 L775.50,462.72 L775.90,463.15 L776.30,463.59 L776.70,464.03 L777.09,464.48 L777.48,464.92 L777.86,465.38 L778.24,465.83 L778.61,466.29 L778.98,466.75 L779.34,467.22 L779.70,467.69 L780.05,468.16 L780.40,468.64 L780.75,469.12 L781.10,469.60 L781.44,470.08 L781.78,470.57 L782.11,471.06 L782.45,471.55 L782.78,472.04 L783.11,472.53 L783.45,473.02 L783.79,473.51 L784.12,474.00 L784.45,474.50 L784.76,475.01 L785.05,475.52 L785.33,476.04 L785.58,476.56 L785.81,477.10 L786.04,477.64 L786.25,478.20 L786.45,478.76 L786.63,479.33 L786.80,479.90" fill="none" stroke="#1d1d1b" stroke-width="3.3" stroke-linecap="round" stroke-linejoin="round"/>
<path d="M398.00,343.90 L398.59,344.01 L399.18,344.12 L399.77,344.23 L400.36,344.34 L400.95,344.46 L401.54,344.57 L402.14,344.68 L402.73,344.79 L403.32,344.90 L403.91,345.01 L404.50,345.12 L405.09,345.24 L405.68,345.35 L406.27,345.46 L406.86,345.57 L407.45,345.68 L408.04,345.79 L408.63,345.91 L409.22,346.02 L409.81,346.13 L410.41,346.24 L411.00,346.35 L411.59,346.46 L412.18,346.58 L412.77,346.69 L413.36,346.80 L413.95,346.91 L414.54,347.02 L415.13,347.14 L415.72,347.25 L416.31,347.36 L416.90,347.47 L417.49,347.58 L418.08,347.70 L418.67,347.81 L419.27,347.92 L419.86,348.03 L420.45,348.15 L421.04,348.26 L421.63,348.37 L422.22,348.48 L422.81,348.60 L423.40,348.71 L423.99,348.82 L424.58,348.93 L425.17,349.05 L425.76,349.16 L426.35,349.27 L426.94,349.38 L427.53,349.50 L428.12,349.61 L428.71,349.72 L429.30,349.83 L429.89,349.95 L430.49,350.06 L431.08,350.17 L431.67,350.28 L432.26,350.40 L432.85,350.51 L433.44,350.62 L434.03,350.73 L434.62,350.84 L435.21,350.95 L435.80,351.07 L436.39,351.18 L436.98,351.29 L437.57,351.40 L438.16,351.51 L438.76,351.62 L439.35,351.74 L439.94,351.85 L440.53,351.96 L441.12,352.07 L441.71,352.18 L442.30,352.29 L442.89,352.40 L443.48,352.52 L444.07,352.63 L444.66,352.74 L445.25,352.85 L445.85,352.96 L446.44,353.07 L447.03,353.19 L447.62,353.30 L448.21,353.41 L448.80,353.52 L449.39,353.63 L449.98,353.75 L450.57,353.86 L451.16,353.97 L451.75,354.08 L452.34,354.19 L452.93,354.31 L453.52,354.42 L454.11,354.53 L454.71,354.64 L455.30,354.76 L455.89,354.87 L456.48,354.98 L457.07,355.10 L457.66,355.21 L458.25,355.32 L458.84,355.44 L459.43,355.55 L460.02,355.66 L460.61,355.78 L461.20,355.89 L461.79,356.01 L462.38,356.12 L462.97,356.24 L463.56,356.35 L464.15,356.47 L464.74,356.58 L465.33,356.70 L465.92,356.81 L466.51,356.93 L467.10,357.05 L467.69,357.16 L468.28,357.28 L468.87,357.39 L469.46,357.51 L470.05,357.63 L470.64,357.75 L471.23,357.86 L471.82,357.98 L472.41,358.10 L472.99,358.22 L473.58,358.34 L474.17,358.46 L474.76,358.58 L475.35,358.69 L475.94,358.81 L476.53,358.93 L477.12,359.05 L477.71,359.18 L478.30,359.30 L478.88,359.42 L479.47,359.54 L480.06,359.66 L480.65,359.79 L481.24,359.91 L481.83,360.03 L482.41,360.16 L483.00,360.29 L483.59,360.41 L484.18,360.54 L484.76,360.67 L485.35,360.80 L485.94,360.93 L486.53,361.05 L487.11,361.18 L487.70,361.31 L488.29,361.44 L488.87,361.57 L489.46,361.70 L490.05,361.83 L490.64,361.96 L491.22,362.09 L491.81,362.22 L492.40,362.35 L492.98,362.48 L493.57,362.61 L494.16,362.74 L494.74,362.87 L495.33,363.00 L495.92,363.13 L496.51,363.25 L497.09,363.38 L497.68,363.51 L498.27,363.63 L498.86,363.76 L499.45,363.88 L500.03,364.01 L500.62,364.13 L501.21,364.25 L501.80,364.37 L502.39,364.49 L502.98,364.61 L503.57,364.73 L504.16,364.85 L504.75,364.97 L505.34,365.09 L505.93,365.20 L506.52,365.32 L507.11,365.44 L507.70,365.55 L508.29,365.67 L508.88,365.78 L509.47,365.90 L510.06,366.01 L510.65,366.13 L511.24,366.24 L511.83,366.36 L512.42,366.47 L513.01,366.58 L513.60,366.70 L514.19,366.81 L514.78,366.93 L515.37,367.04 L515.96,367.16 L516.55,367.27 L517.14,367.39 L517.73,367.50 L518.32,367.62 L518.91,367.74 L519.50,367.86 L520.09,367.97 L520.68,368.09 L521.27,368.21 L521.86,368.33 L522.45,368.45 L523.04,368.57 L523.63,368.70 L524.21,368.82 L524.80,368.94 L525.39,369.07 L525.98,369.20 L526.56,369.32 L527.15,369.45 L527.74,369.58 L528.32,369.71 L528.91,369.84 L529.49,369.98 L530.08,370.11 L530.66,370.25 L531.25,370.38 L531.83,370.52 L532.42,370.66 L533.00,370.80 L533.58,370.95 L534.17,371.09 L534.75,371.24 L535.33,371.38 L535.92,371.53 L536.50,371.68 L537.08,371.83 L537.66,371.98 L538.24,372.13 L538.83,372.28 L539.41,372.43 L539.99,372.59 L540.57,372.74 L541.15,372.90 L541.73,373.05 L542.31,373.21 L542.89,373.36 L543.47,373.52 L544.05,373.68 L544.63,373.84 L545.21,373.99 L545.79,374.15 L546.37,374.31 L546.95,374.47 L547.53,374.63 L548.11,374.79 L548.69,374.95 L549.27,375.11 L549.85,375.27 L550.43,375.43 L551.01,375.59 L551.60,375.74 L552.18,375.90 L552.76,376.06 L553.34,376.22 L553.92,376.38 L554.50,376.54 L555.08,376.69 L555.66,376.85 L556.24,377.01 L556.82,377.16 L557.40,377.32 L557.98,377.47 L558.56,377.62 L559.14,377.78 L559.73,377.93 L560.31,378.08 L560.89,378.23 L561.47,378.38 L562.05,378.53 L562.64,378.68 L563.22,378.83 L563.80,378.98 L564.38,379.13 L564.97,379.28 L565.55,379.43 L566.13,379.58 L566.71,379.73 L567.29,379.88 L567.88,380.03 L568.46,380.18 L569.04,380.32 L569.62,380.47 L570.21,380.62 L570.79,380.77 L571.37,380.92 L571.95,381.07 L572.54,381.22 L573.12,381.37 L573.70,381.51 L574.28,381.66 L574.87,381.81 L575.45,381.96 L576.03,382.11 L576.61,382.26 L577.20,382.41 L577.78,382.56 L578.36,382.71 L578.94,382.86 L579.52,383.02 L580.10,383.17 L580.69,383.32 L581.27,383.47 L581.85,383.62 L582.43,383.77 L583.01,383.93 L583.59,384.08 L584.18,384.23 L584.76,384.38 L585.34,384.54 L585.92,384.69 L586.50,384.84 L587.08,384.99 L587.66,385.15 L588.25,385.30 L588.83,385.45 L589.41,385.61 L589.99,385.76 L590.57,385.91 L591.15,386.07 L591.73,386.22 L592.32,386.37 L592.90,386.53 L593.48,386.68 L594.06,386.83 L594.64,386.99 L595.22,387.14 L595.80,387.29 L596.38,387.45 L596.96,387.60 L597.55,387.76 L598.13,387.91 L598.71,388.07 L599.29,388.22 L599.87,388.38 L600.45,388.53 L601.03,388.68 L601.61,388.84 L602.19,388.99 L602.77,389.15 L603.35,389.30 L603.94,389.46 L604.52,389.62 L605.10,389.77 L605.68,389.93 L606.26,390.08 L606.84,390.24 L607.42,390.39 L608.00,390.55 L608.58,390.71 L609.16,390.86 L609.74,391.02 L610.32,391.17 L610.90,391.33 L611.48,391.49 L612.06,391.64 L612.64,391.80 L613.22,391.96 L613.80,392.12 L614.38,392.27 L614.97,392.43 L615.55,392.59 L616.13,392.74 L616.71,392.90 L617.29,393.06 L617.87,393.22 L618.45,393.38 L619.03,393.53 L619.61,393.69 L620.19,393.85 L620.77,394.01 L621.35,394.17 L621.92,394.33 L622.50,394.49 L623.08,394.65 L623.66,394.81 L624.24,394.97 L624.82,395.13 L625.40,395.29 L625.98,395.45 L626.56,395.61 L627.14,395.77 L627.72,395.93 L628.30,396.09 L628.88,396.26 L629.46,396.42 L630.03,396.58 L630.61,396.74 L631.19,396.90 L631.77,397.07 L632.35,397.23 L632.93,397.39 L633.51,397.56 L634.09,397.72 L634.66,397.88 L635.24,398.05 L635.82,398.21 L636.40,398.38 L636.98,398.54 L637.55,398.71 L638.13,398.87 L638.71,399.03 L639.29,399.20 L639.87,399.36 L640.45,399.53 L641.03,399.69 L641.60,399.85 L642.18,400.01 L642.76,400.17 L643.34,400.33 L643.92,400.49 L644.50,400.65 L645.08,400.81 L645.66,400.96 L646.25,401.12 L646.83,401.28 L647.41,401.43 L647.99,401.59 L648.57,401.75 L649.15,401.90 L649.73,402.06 L650.31,402.21 L650.89,402.37 L651.48,402.52 L652.06,402.68 L652.64,402.84 L653.22,402.99 L653.80,403.15 L654.38,403.30 L654.96,403.46 L655.54,403.62 L656.12,403.77 L656.70,403.93 L657.28,404.09 L657.86,404.25 L658.44,404.41 L659.02,404.56 L659.60,404.72 L660.18,404.89 L660.76,405.05 L661.34,405.21 L661.92,405.37 L662.50,405.53 L663.08,405.70 L663.65,405.86 L664.23,406.03 L664.81,406.20 L665.39,406.37 L665.96,406.54 L666.54,406.71 L667.11,406.88 L667.69,407.05 L668.26,407.22 L668.84,407.40 L669.41,407.58 L669.98,407.75 L670.56,407.93 L671.13,408.11 L671.70,408.30 L672.27,408.48 L672.84,408.67 L673.41,408.86 L673.98,409.05 L674.55,409.24 L675.12,409.44 L675.69,409.63 L676.26,409.83 L676.83,410.03 L677.39,410.23 L677.96,410.44 L678.52,410.64 L679.09,410.84 L679.66,411.05 L680.22,411.26 L680.78,411.47 L681.35,411.68 L681.91,411.89 L682.47,412.10 L683.04,412.31 L683.60,412.52 L684.16,412.74 L684.72,412.95 L685.28,413.17 L685.84,413.38 L686.40,413.60 L686.96,413.81 L687.52,414.03 L688.08,414.25 L688.64,414.47 L689.20,414.69 L689.76,414.91 L690.32,415.14 L690.88,415.36 L691.43,415.58 L691.99,415.81 L692.55,416.03 L693.11,416.26 L693.66,416.48 L694.22,416.71 L694.78,416.94 L695.33,417.17 L695.89,417.39 L696.45,417.62 L697.00,417.85 L697.56,418.09 L698.11,418.32 L698.67,418.55 L699.22,418.78 L699.78,419.01 L700.33,419.25 L700.89,419.48 L701.44,419.72 L701.99,419.95 L702.55,420.19 L703.10,420.42 L703.65,420.66 L704.21,420.89 L704.76,421.13 L705.31,421.37 L705.86,421.61 L706.42,421.85 L706.97,422.08 L707.52,422.32 L708.07,422.56 L708.62,422.80 L709.18,423.04 L709.73,423.28 L710.28,423.52 L710.83,423.77 L711.38,424.01 L711.93,424.25 L712.48,424.49 L713.03,424.73 L713.58,424.97 L714.13,425.22 L714.68,425.46 L715.23,425.70 L715.78,425.94 L716.33,426.19 L716.88,426.43 L717.42,426.68 L717.97,426.93 L718.52,427.17 L719.07,427.42 L719.62,427.67 L720.16,427.92 L720.71,428.17 L721.26,428.42 L721.80,428.67 L722.35,428.92 L722.90,429.17 L723.44,429.42 L723.99,429.68 L724.53,429.93 L725.08,430.18 L725.62,430.44 L726.17,430.69 L726.71,430.95 L727.25,431.21 L727.80,431.46 L728.34,431.72 L728.89,431.98 L729.43,432.23 L729.97,432.49 L730.51,432.75 L731.06,433.01 L731.60,433.27 L732.14,433.53 L732.68,433.79 L733.23,434.05 L733.77,434.31 L734.31,434.57 L734.85,434.83 L735.39,435.10 L735.93,435.36 L736.47,435.62 L737.01,435.88 L737.56,436.14 L738.10,436.41 L738.64,436.67 L739.18,436.93 L739.72,437.20 L740.26,437.46 L740.80,437.73 L741.34,438.00 L741.88,438.26 L742.41,438.53 L742.95,438.80 L743.49,439.08 L744.02,439.35 L744.55,439.63 L745.09,439.90 L745.62,440.18 L746.15,440.47 L746.68,440.75 L747.21,441.03 L747.74,441.32 L748.27,441.61 L748.80,441.89 L749.32,442.18 L749.85,442.47 L750.38,442.77 L750.90,443.06 L751.43,443.36 L751.95,443.66 L752.47,443.96 L752.99,444.26 L753.51,444.57 L754.02,444.88 L754.53,445.20 L755.04,445.51 L755.55,445.84 L756.05,446.16 L756.55,446.49 L757.04,446.83 L757.54,447.17 L758.03,447.52 L758.52,447.87 L759.00,448.23 L759.49,448.58 L759.97,448.94 L760.45,449.31 L760.93,449.67 L761.41,450.04 L761.88,450.41 L762.35,450.78 L762.83,451.15 L763.30,451.52 L763.76,451.90 L764.23,452.28 L764.70,452.66 L765.16,453.05 L765.62,453.43 L766.08,453.82 L766.54,454.21 L766.99,454.61 L767.45,455.00 L767.90,455.40 L768.35,455.80 L768.80,456.20 L769.24,456.60 L769.68,457.00 L770.13,457.41 L770.57,457.82 L771.00,458.24 L771.44,458.65 L771.87,459.07 L772.30,459.49 L772.73,459.91 L773.16,460.34 L773.58,460.77 L774.00,461.20 L774.41,461.63 L774.83,462.06 L775.24,462.50 L775.65,462.94 L776.06,463.38 L776.47,463.83 L776.87,464.28 L777.26,464.73 L777.66,465.19 L778.04,465.65 L778.42,466.11 L778.80,466.57 L779.17,467.05 L779.54,467.52 L779.90,468.00 L780.26,468.48 L780.62,468.97 L780.97,469.46 L781.32,469.95 L781.67,470.44 L782.01,470.93 L782.35,471.43 L782.69,471.93 L783.03,472.42 L783.37,472.92 L783.72,473.42 L784.06,473.92 L784.39,474.43 L784.71,474.94 L785.01,475.45 L785.29,475.98 L785.55,476.51 L785.79,477.06 L786.02,477.61 L786.24,478.17 L786.44,478.74 L786.63,479.32 L786.80,479.90" fill="none" stroke="#1d1d1b" stroke-width="3.3" stroke-linecap="round" stroke-linejoin="round"/>
<path d="M390.50,343.90 L391.10,344.02 L391.70,344.14 L392.30,344.26 L392.90,344.38 L393.50,344.50 L394.10,344.61 L394.70,344.73 L395.30,344.85 L395.90,344.97 L396.50,345.09 L397.10,345.21 L397.69,345.33 L398.29,345.45 L398.89,345.57 L399.49,345.69 L400.09,345.80 L400.69,345.92 L401.29,346.04 L401.89,346.16 L402.49,346.28 L403.09,346.40 L403.69,346.52 L404.29,346.64 L404.89,346.75 L405.49,346.87 L406.09,346.99 L406.69,347.11 L407.29,347.23 L407.89,347.35 L408.49,347.46 L409.09,347.58 L409.69,347.70 L410.29,347.82 L410.89,347.94 L411.49,348.06 L412.09,348.17 L412.69,348.29 L413.29,348.41 L413.89,348.53 L414.49,348.65 L415.09,348.76 L415.69,348.88 L416.29,349.00 L416.89,349.12 L417.49,349.23 L418.09,349.35 L418.69,349.47 L419.29,349.59 L419.88,349.71 L420.48,349.82 L421.08,349.94 L421.68,350.06 L422.28,350.18 L422.88,350.29 L423.48,350.41 L424.08,350.53 L424.68,350.65 L425.28,350.76 L425.88,350.88 L426.48,351.00 L427.08,351.11 L427.68,351.23 L428.28,351.35 L428.88,351.46 L429.48,351.58 L430.08,351.70 L430.68,351.81 L431.28,351.93 L431.89,352.04 L432.49,352.16 L433.09,352.27 L433.69,352.39 L434.29,352.50 L434.89,352.62 L435.49,352.73 L436.09,352.85 L436.69,352.96 L437.29,353.08 L437.89,353.19 L438.49,353.30 L439.09,353.42 L439.69,353.53 L440.29,353.65 L440.89,353.76 L441.49,353.87 L442.09,353.99 L442.69,354.10 L443.30,354.21 L443.90,354.33 L444.50,354.44 L445.10,354.56 L445.70,354.67 L446.30,354.78 L446.90,354.90 L447.50,355.01 L448.10,355.12 L448.70,355.24 L449.30,355.35 L449.90,355.46 L450.50,355.58 L451.10,355.69 L451.71,355.80 L452.31,355.92 L452.91,356.03 L453.51,356.15 L454.11,356.26 L454.71,356.37 L455.31,356.49 L455.91,356.60 L456.51,356.72 L457.11,356.83 L457.71,356.95 L458.31,357.06 L458.91,357.17 L459.51,357.29 L460.11,357.40 L460.71,357.52 L461.31,357.64 L461.91,357.75 L462.51,357.87 L463.11,357.98 L463.71,358.10 L464.31,358.21 L464.91,358.33 L465.51,358.45 L466.11,358.56 L466.71,358.68 L467.31,358.80 L467.91,358.92 L468.51,359.03 L469.11,359.15 L469.71,359.27 L470.31,359.39 L470.91,359.51 L471.51,359.63 L472.11,359.75 L472.71,359.87 L473.31,359.99 L473.91,360.11 L474.51,360.23 L475.11,360.35 L475.71,360.47 L476.31,360.59 L476.90,360.71 L477.50,360.83 L478.10,360.96 L478.70,361.08 L479.30,361.20 L479.90,361.33 L480.50,361.45 L481.09,361.58 L481.69,361.70 L482.29,361.83 L482.89,361.96 L483.49,362.09 L484.08,362.22 L484.68,362.35 L485.28,362.48 L485.88,362.61 L486.47,362.74 L487.07,362.87 L487.67,363.00 L488.26,363.13 L488.86,363.26 L489.46,363.39 L490.05,363.53 L490.65,363.66 L491.25,363.79 L491.85,363.92 L492.44,364.05 L493.04,364.18 L493.64,364.31 L494.23,364.44 L494.83,364.57 L495.43,364.70 L496.03,364.83 L496.62,364.96 L497.22,365.09 L497.82,365.22 L498.42,365.35 L499.02,365.47 L499.61,365.60 L500.21,365.72 L500.81,365.85 L501.41,365.97 L502.01,366.09 L502.61,366.22 L503.21,366.34 L503.81,366.46 L504.40,366.58 L505.00,366.70 L505.60,366.82 L506.20,366.93 L506.80,367.05 L507.40,367.17 L508.01,367.29 L508.61,367.40 L509.21,367.52 L509.81,367.64 L510.41,367.75 L511.01,367.87 L511.61,367.98 L512.21,368.10 L512.81,368.22 L513.41,368.33 L514.01,368.45 L514.61,368.56 L515.21,368.68 L515.81,368.80 L516.41,368.91 L517.01,369.03 L517.61,369.15 L518.21,369.27 L518.81,369.38 L519.41,369.50 L520.01,369.62 L520.61,369.74 L521.21,369.86 L521.81,369.98 L522.41,370.11 L523.01,370.23 L523.60,370.35 L524.20,370.48 L524.80,370.60 L525.40,370.73 L525.99,370.86 L526.59,370.98 L527.19,371.11 L527.79,371.25 L528.38,371.38 L528.98,371.51 L529.57,371.64 L530.17,371.78 L530.76,371.92 L531.36,372.06 L531.95,372.20 L532.55,372.34 L533.14,372.48 L533.73,372.62 L534.33,372.77 L534.92,372.91 L535.51,373.06 L536.11,373.21 L536.70,373.36 L537.29,373.51 L537.88,373.66 L538.48,373.81 L539.07,373.97 L539.66,374.12 L540.25,374.27 L540.84,374.43 L541.43,374.58 L542.03,374.74 L542.62,374.90 L543.21,375.05 L543.80,375.21 L544.39,375.37 L544.98,375.53 L545.57,375.69 L546.16,375.84 L546.75,376.00 L547.34,376.16 L547.93,376.32 L548.52,376.48 L549.11,376.64 L549.70,376.80 L550.29,376.96 L550.88,377.12 L551.48,377.28 L552.07,377.44 L552.66,377.60 L553.25,377.76 L553.84,377.91 L554.43,378.07 L555.02,378.23 L555.61,378.39 L556.20,378.54 L556.79,378.70 L557.38,378.85 L557.98,379.01 L558.57,379.16 L559.16,379.31 L559.75,379.47 L560.34,379.62 L560.94,379.77 L561.53,379.92 L562.12,380.07 L562.71,380.22 L563.31,380.37 L563.90,380.52 L564.49,380.67 L565.08,380.82 L565.68,380.97 L566.27,381.12 L566.86,381.27 L567.45,381.42 L568.05,381.57 L568.64,381.72 L569.23,381.87 L569.83,382.02 L570.42,382.17 L571.01,382.31 L571.60,382.46 L572.20,382.61 L572.79,382.76 L573.38,382.91 L573.98,383.06 L574.57,383.21 L575.16,383.36 L575.75,383.51 L576.35,383.66 L576.94,383.81 L577.53,383.96 L578.12,384.11 L578.72,384.26 L579.31,384.41 L579.90,384.56 L580.49,384.71 L581.09,384.87 L581.68,385.02 L582.27,385.17 L582.86,385.32 L583.45,385.47 L584.05,385.63 L584.64,385.78 L585.23,385.93 L585.82,386.08 L586.41,386.23 L587.01,386.39 L587.60,386.54 L588.19,386.69 L588.78,386.84 L589.37,387.00 L589.97,387.15 L590.56,387.30 L591.15,387.45 L591.74,387.61 L592.33,387.76 L592.93,387.91 L593.52,388.07 L594.11,388.22 L594.70,388.37 L595.29,388.53 L595.88,388.68 L596.48,388.83 L597.07,388.99 L597.66,389.14 L598.25,389.29 L598.84,389.45 L599.43,389.60 L600.03,389.75 L600.62,389.91 L601.21,390.06 L601.80,390.22 L602.39,390.37 L602.98,390.53 L603.57,390.68 L604.17,390.83 L604.76,390.99 L605.35,391.14 L605.94,391.30 L606.53,391.45 L607.12,391.61 L607.71,391.76 L608.31,391.92 L608.90,392.07 L609.49,392.23 L610.08,392.39 L610.67,392.54 L611.26,392.70 L611.85,392.85 L612.44,393.01 L613.03,393.17 L613.63,393.32 L614.22,393.48 L614.81,393.63 L615.40,393.79 L615.99,393.95 L616.58,394.11 L617.17,394.26 L617.76,394.42 L618.35,394.58 L618.94,394.73 L619.53,394.89 L620.12,395.05 L620.71,395.21 L621.30,395.37 L621.89,395.52 L622.48,395.68 L623.08,395.84 L623.67,396.00 L624.26,396.16 L624.85,396.32 L625.44,396.48 L626.03,396.64 L626.61,396.80 L627.20,396.96 L627.79,397.13 L628.38,397.29 L628.97,397.45 L629.56,397.61 L630.15,397.77 L630.74,397.93 L631.33,398.09 L631.92,398.26 L632.51,398.42 L633.10,398.58 L633.69,398.74 L634.28,398.91 L634.87,399.07 L635.46,399.24 L636.04,399.40 L636.63,399.56 L637.22,399.73 L637.81,399.89 L638.40,400.06 L638.99,400.22 L639.58,400.38 L640.17,400.55 L640.76,400.71 L641.35,400.87 L641.94,401.03 L642.53,401.19 L643.12,401.35 L643.71,401.50 L644.30,401.66 L644.89,401.82 L645.48,401.98 L646.07,402.13 L646.66,402.29 L647.26,402.44 L647.85,402.60 L648.44,402.75 L649.03,402.90 L649.62,403.06 L650.22,403.21 L650.81,403.37 L651.40,403.52 L651.99,403.67 L652.59,403.83 L653.18,403.98 L653.77,404.14 L654.36,404.29 L654.95,404.44 L655.55,404.60 L656.14,404.75 L656.73,404.91 L657.32,405.06 L657.91,405.22 L658.50,405.38 L659.09,405.54 L659.68,405.69 L660.27,405.85 L660.86,406.01 L661.45,406.17 L662.04,406.33 L662.63,406.49 L663.22,406.66 L663.81,406.82 L664.40,406.99 L664.99,407.15 L665.58,407.32 L666.16,407.49 L666.75,407.66 L667.34,407.83 L667.92,408.00 L668.51,408.17 L669.09,408.34 L669.68,408.52 L670.26,408.70 L670.84,408.88 L671.43,409.06 L672.01,409.24 L672.59,409.42 L673.17,409.61 L673.75,409.80 L674.33,409.99 L674.91,410.19 L675.49,410.38 L676.07,410.58 L676.65,410.78 L677.23,410.98 L677.81,411.18 L678.38,411.38 L678.96,411.59 L679.54,411.79 L680.11,412.00 L680.69,412.21 L681.26,412.42 L681.84,412.63 L682.41,412.84 L682.98,413.05 L683.56,413.26 L684.13,413.47 L684.70,413.69 L685.27,413.90 L685.85,414.12 L686.42,414.33 L686.99,414.55 L687.56,414.77 L688.13,414.98 L688.70,415.20 L689.27,415.42 L689.84,415.65 L690.41,415.87 L690.98,416.09 L691.55,416.31 L692.12,416.54 L692.68,416.76 L693.25,416.99 L693.82,417.22 L694.39,417.44 L694.96,417.67 L695.52,417.90 L696.09,418.13 L696.66,418.36 L697.22,418.59 L697.79,418.82 L698.36,419.05 L698.92,419.28 L699.49,419.52 L700.05,419.75 L700.62,419.98 L701.18,420.22 L701.75,420.45 L702.31,420.69 L702.88,420.92 L703.44,421.16 L704.00,421.40 L704.57,421.63 L705.13,421.87 L705.70,422.11 L706.26,422.35 L706.82,422.59 L707.38,422.83 L707.95,423.06 L708.51,423.30 L709.07,423.55 L709.63,423.79 L710.20,424.03 L710.76,424.27 L711.32,424.51 L711.88,424.75 L712.44,424.99 L713.00,425.24 L713.56,425.48 L714.12,425.72 L714.69,425.96 L715.25,426.21 L715.81,426.45 L716.37,426.70 L716.93,426.94 L717.48,427.19 L718.04,427.43 L718.60,427.68 L719.16,427.93 L719.72,428.18 L720.28,428.43 L720.83,428.68 L721.39,428.93 L721.95,429.18 L722.51,429.43 L723.06,429.69 L723.62,429.94 L724.18,430.19 L724.73,430.45 L725.29,430.70 L725.84,430.96 L726.40,431.21 L726.95,431.47 L727.51,431.73 L728.06,431.99 L728.62,432.24 L729.17,432.50 L729.73,432.76 L730.28,433.02 L730.83,433.28 L731.39,433.54 L731.94,433.80 L732.49,434.06 L733.04,434.32 L733.60,434.58 L734.15,434.85 L734.70,435.11 L735.25,435.37 L735.80,435.63 L736.36,435.90 L736.91,436.16 L737.46,436.42 L738.01,436.69 L738.56,436.95 L739.12,437.21 L739.67,437.48 L740.22,437.75 L740.77,438.01 L741.32,438.28 L741.87,438.55 L742.41,438.82 L742.96,439.09 L743.51,439.37 L744.05,439.64 L744.60,439.92 L745.14,440.20 L745.68,440.48 L746.23,440.76 L746.77,441.05 L747.31,441.33 L747.85,441.62 L748.39,441.91 L748.93,442.20 L749.46,442.49 L750.00,442.78 L750.54,443.08 L751.07,443.38 L751.61,443.68 L752.14,443.98 L752.67,444.28 L753.20,444.59 L753.73,444.90 L754.25,445.22 L754.77,445.53 L755.29,445.86 L755.80,446.18 L756.31,446.51 L756.82,446.85 L757.33,447.20 L757.83,447.54 L758.33,447.90 L758.83,448.25 L759.32,448.61 L759.81,448.98 L760.30,449.35 L760.79,449.71 L761.28,450.08 L761.76,450.46 L762.25,450.83 L762.73,451.21 L763.21,451.58 L763.69,451.97 L764.16,452.35 L764.64,452.74 L765.11,453.12 L765.58,453.52 L766.05,453.91 L766.51,454.31 L766.98,454.70 L767.44,455.10 L767.90,455.51 L768.36,455.91 L768.82,456.32 L769.27,456.72 L769.72,457.13 L770.17,457.55 L770.62,457.96 L771.07,458.38 L771.51,458.80 L771.95,459.23 L772.39,459.66 L772.83,460.09 L773.26,460.52 L773.69,460.95 L774.11,461.39 L774.54,461.83 L774.96,462.27 L775.38,462.71 L775.80,463.16 L776.21,463.61 L776.63,464.07 L777.03,464.52 L777.44,464.98 L777.83,465.45 L778.23,465.91 L778.61,466.39 L778.99,466.86 L779.37,467.34 L779.74,467.83 L780.11,468.31 L780.48,468.81 L780.84,469.30 L781.19,469.80 L781.55,470.30 L781.90,470.80 L782.25,471.30 L782.59,471.81 L782.94,472.31 L783.29,472.82 L783.64,473.32 L783.99,473.83 L784.33,474.34 L784.66,474.86 L784.97,475.39 L785.26,475.92 L785.52,476.46 L785.77,477.01 L786.01,477.57 L786.23,478.14 L786.43,478.72 L786.62,479.31 L786.80,479.90" fill="none" stroke="#1d1d1b" stroke-width="3.3" stroke-linecap="round" stroke-linejoin="round"/>
<path d="M272.40,320.60 L404.00,343.90" fill="none" stroke="#1d1d1b" stroke-width="1.25" stroke-dasharray="22.7 10.25"/>
<path d="M272.40,323.70 L392.00,343.90" fill="none" stroke="#1d1d1b" stroke-width="1.25" stroke-dasharray="22.7 10.25"/>
<line x1="272.20" y1="343.9" x2="612" y2="343.9" stroke="#1d1d1b" stroke-width="3.1" stroke-linecap="round"/>
<text transform="translate(260.60,217.60) rotate(0.03) scale(1.0,1.03)" font-size="22.6" font-weight="bold" fill="#1d1d1b" text-anchor="end" stroke="#1d1d1b" stroke-width="0.25">24</text>
<text transform="translate(260.60,238.50) rotate(0.03) scale(1.0,1.03)" font-size="22.6" font-weight="bold" fill="#1d1d1b" text-anchor="end" stroke="#1d1d1b" stroke-width="0.25">22</text>
<text transform="translate(260.60,260.10) rotate(0.03) scale(1.0,1.03)" font-size="22.6" font-weight="bold" fill="#1d1d1b" text-anchor="end" stroke="#1d1d1b" stroke-width="0.25">20</text>
<text transform="translate(260.60,281.30) rotate(0.03) scale(1.0,1.03)" font-size="22.6" font-weight="bold" fill="#1d1d1b" text-anchor="end" stroke="#1d1d1b" stroke-width="0.25" clip-path="url(#k1)">18</text>
<text transform="translate(260.60,304.20) rotate(0.03) scale(1.0,1.03)" font-size="22.6" font-weight="bold" fill="#1d1d1b" text-anchor="end" stroke="#1d1d1b" stroke-width="0.25" clip-path="url(#k2)">16</text>
<text transform="translate(260.60,326.60) rotate(0.03) scale(1.0,1.03)" font-size="22.6" font-weight="bold" fill="#1d1d1b" text-anchor="end" stroke="#1d1d1b" stroke-width="0.25" clip-path="url(#k3)">14</text>
<text transform="translate(260.60,349.50) rotate(0.03) scale(1.0,1.03)" font-size="22.6" font-weight="bold" fill="#1d1d1b" text-anchor="end" stroke="#1d1d1b" stroke-width="0.25" clip-path="url(#k4)">12</text>
<text transform="translate(260.60,373.00) rotate(0.03) scale(1.0,1.03)" font-size="22.6" font-weight="bold" fill="#1d1d1b" text-anchor="end" stroke="#1d1d1b" stroke-width="0.25" clip-path="url(#k5)">10</text>
<text transform="translate(260.90,396.00) rotate(0.03) scale(1.0,1.03)" font-size="22.6" font-weight="bold" fill="#1d1d1b" text-anchor="end" stroke="#1d1d1b" stroke-width="0.25">8</text>
<text transform="translate(260.90,418.60) rotate(0.03) scale(1.0,1.03)" font-size="22.6" font-weight="bold" fill="#1d1d1b" text-anchor="end" stroke="#1d1d1b" stroke-width="0.25">6</text>
<text transform="translate(260.90,441.30) rotate(0.03) scale(1.0,1.03)" font-size="22.6" font-weight="bold" fill="#1d1d1b" text-anchor="end" stroke="#1d1d1b" stroke-width="0.25">4</text>
<text transform="translate(260.90,464.20) rotate(0.03) scale(1.0,1.03)" font-size="22.6" font-weight="bold" fill="#1d1d1b" text-anchor="end" stroke="#1d1d1b" stroke-width="0.25">2</text>
<text transform="translate(260.90,487.00) rotate(0.03) scale(1.0,1.03)" font-size="22.6" font-weight="bold" fill="#1d1d1b" text-anchor="end" stroke="#1d1d1b" stroke-width="0.25">0</text>
<text transform="translate(272.60,505.20) rotate(0.03) scale(1.05,1.04)" font-size="22.6" font-weight="bold" fill="#1d1d1b" text-anchor="middle" stroke="#1d1d1b" stroke-width="0.25">0</text>
<text transform="translate(375.40,505.20) rotate(0.03) scale(1.05,1.04)" font-size="22.6" font-weight="bold" fill="#1d1d1b" text-anchor="middle" stroke="#1d1d1b" stroke-width="0.25">20</text>
<text transform="translate(478.50,505.20) rotate(0.03) scale(1.05,1.04)" font-size="22.6" font-weight="bold" fill="#1d1d1b" text-anchor="middle" stroke="#1d1d1b" stroke-width="0.25">40</text>
<text transform="translate(581.00,505.20) rotate(0.03) scale(1.05,1.04)" font-size="22.6" font-weight="bold" fill="#1d1d1b" text-anchor="middle" stroke="#1d1d1b" stroke-width="0.25">60</text>
<text transform="translate(683.80,505.20) rotate(0.03) scale(1.05,1.04)" font-size="22.6" font-weight="bold" fill="#1d1d1b" text-anchor="middle" stroke="#1d1d1b" stroke-width="0.25">80</text>
<text transform="translate(787.00,505.20) rotate(0.03) scale(1.05,1.04)" font-size="22.6" font-weight="bold" fill="#1d1d1b" text-anchor="middle" stroke="#1d1d1b" stroke-width="0.25" clip-path="url(#k6)">100</text>
<text transform="translate(835.50,552.70) rotate(0.03) scale(1.0,1.02)" font-size="22.94" fill="#1d1d1b" text-anchor="end" stroke="#1d1d1b" stroke-width="0.3">Ambient temperature [°C]</text>
<text transform="translate(200.50,410.40) rotate(-89.97) scale(1.0,1.04)" font-size="22.8" fill="#1d1d1b" text-anchor="start" stroke="#1d1d1b" stroke-width="0.3">Current strength [A]</text>
<line x1="211.4" y1="276" x2="211.4" y2="222" stroke="#1d1d1b" stroke-width="1.3"/>
<polygon points="211.4,207.8 216.8,224.5 206.0,224.5" fill="#1d1d1b"/>
<line x1="753.6" y1="526.3" x2="816" y2="526.3" stroke="#1d1d1b" stroke-width="1.3"/>
<polygon points="834.2,526.3 814.2,521.4 814.2,531.0" fill="#1d1d1b"/>
<circle cx="305.7" cy="375.6" r="11.3" fill="#1d1d1b"/>
<text transform="translate(305.70,381.30) rotate(0.03) scale(1.0,1.02)" font-size="15.5" fill="#ffffff" text-anchor="middle" stroke="#ffffff" stroke-width="0.3" clip-path="url(#k7)">1</text>
<text transform="translate(320.00,381.30) rotate(0.03) scale(0.97,0.76)" font-size="23.7" fill="#1d1d1b" text-anchor="start" stroke="#1d1d1b" stroke-width="0.4">=</text>
<text transform="translate(338.40,381.00) rotate(0.03) scale(1.0,0.975)" font-size="22.94" fill="#1d1d1b" text-anchor="start" stroke="#1d1d1b" stroke-width="0.4">2-pos.</text>
<circle cx="304.5" cy="406.5" r="11.3" fill="#1d1d1b"/>
<text transform="translate(304.50,412.20) rotate(0.03) scale(1.0,1.02)" font-size="15.5" fill="#ffffff" text-anchor="middle" stroke="#ffffff" stroke-width="0.3">2</text>
<text transform="translate(320.00,413.40) rotate(0.03) scale(0.97,0.76)" font-size="23.7" fill="#1d1d1b" text-anchor="start" stroke="#1d1d1b" stroke-width="0.4">=</text>
<text transform="translate(339.00,413.10) rotate(0.03) scale(1.012,0.975)" font-size="22.94" fill="#1d1d1b" text-anchor="start" stroke="#1d1d1b" stroke-width="0.4">5-pos.</text>
<circle cx="304.5" cy="437.4" r="11.3" fill="#1d1d1b"/>
<text transform="translate(304.50,443.10) rotate(0.03) scale(1.0,1.02)" font-size="15.5" fill="#ffffff" text-anchor="middle" stroke="#ffffff" stroke-width="0.3">3</text>
<text transform="translate(320.00,443.20) rotate(0.03) scale(0.97,0.76)" font-size="23.7" fill="#1d1d1b" text-anchor="start" stroke="#1d1d1b" stroke-width="0.4">=</text>
<text transform="translate(340.00,442.90) rotate(0.03) scale(1.005,0.975)" font-size="22.94" fill="#1d1d1b" text-anchor="start" stroke="#1d1d1b" stroke-width="0.4" clip-path="url(#k8)">12-pos.</text>
<circle cx="305.0" cy="464.3" r="11.3" fill="#1d1d1b"/>
<text transform="translate(305.00,470.00) rotate(0.03) scale(1.0,1.02)" font-size="15.5" fill="#ffffff" text-anchor="middle" stroke="#ffffff" stroke-width="0.3">4</text>
<text transform="translate(320.00,470.30) rotate(0.03) scale(0.97,0.76)" font-size="23.7" fill="#1d1d1b" text-anchor="start" stroke="#1d1d1b" stroke-width="0.4">=</text>
<text transform="translate(339.00,470.30) rotate(0.03) scale(1.018,0.975)" font-size="22.94" fill="#1d1d1b" text-anchor="start" stroke="#1d1d1b" stroke-width="0.4">20-pos.</text>
<line x1="644.5" y1="309.5" x2="619.8" y2="349.9" stroke="#ffffff" stroke-width="3.4" stroke-linecap="round"/>
<line x1="654.8" y1="292.6" x2="619.8" y2="349.9" stroke="#1d1d1b" stroke-width="1.2"/>
<circle cx="654.8" cy="292.6" r="20.0" fill="#ffffff"/>
<circle cx="654.8" cy="292.6" r="17.0" fill="#1d1d1b"/>
<text transform="translate(654.80,301.60) rotate(0.03) scale(1.0,1.0)" font-size="23.5" fill="#ffffff" text-anchor="middle" stroke="#ffffff" stroke-width="0.3" clip-path="url(#k9)">1</text>
<line x1="700.3" y1="357.4" x2="683.4" y2="398.6" stroke="#ffffff" stroke-width="3.4" stroke-linecap="round"/>
<line x1="707.2" y1="340.3" x2="683.4" y2="398.6" stroke="#1d1d1b" stroke-width="1.2"/>
<circle cx="707.2" cy="340.3" r="19.0" fill="#ffffff"/>
<circle cx="707.2" cy="340.3" r="17.0" fill="#1d1d1b"/>
<text transform="translate(707.20,349.30) rotate(0.03) scale(1.0,1.0)" font-size="23.5" fill="#ffffff" text-anchor="middle" stroke="#ffffff" stroke-width="0.3">2</text>
<line x1="473.3" y1="385.2" x2="517.2" y2="366.0" stroke="#ffffff" stroke-width="3.4" stroke-linecap="round"/>
<line x1="455.2" y1="394.1" x2="517.2" y2="366.0" stroke="#1d1d1b" stroke-width="1.2"/>
<circle cx="455.2" cy="394.1" r="20.1" fill="#ffffff"/>
<circle cx="455.2" cy="394.1" r="17.0" fill="#1d1d1b"/>
<text transform="translate(455.20,403.10) rotate(0.03) scale(1.0,1.0)" font-size="23.5" fill="#ffffff" text-anchor="middle" stroke="#ffffff" stroke-width="0.3">3</text>
<line x1="547.0" y1="408.5" x2="592.4" y2="388.5" stroke="#ffffff" stroke-width="3.4" stroke-linecap="round"/>
<line x1="529.8" y1="416.9" x2="592.4" y2="388.5" stroke="#1d1d1b" stroke-width="1.2"/>
<circle cx="529.8" cy="416.9" r="20.0" fill="#ffffff"/>
<circle cx="529.8" cy="416.9" r="17.0" fill="#1d1d1b"/>
<text transform="translate(529.80,425.90) rotate(0.03) scale(1.0,1.0)" font-size="23.5" fill="#ffffff" text-anchor="middle" stroke="#ffffff" stroke-width="0.3">4</text>
</svg>
</body></html>
